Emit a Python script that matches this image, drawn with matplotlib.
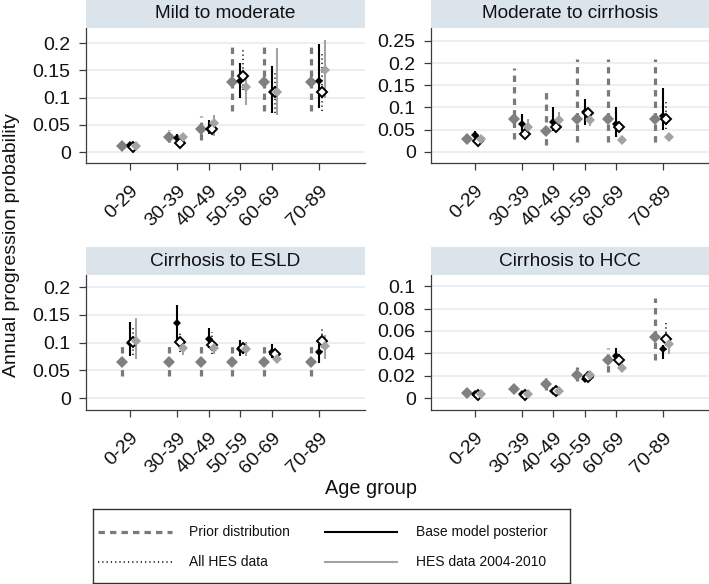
import matplotlib
matplotlib.use('Agg')
import matplotlib.pyplot as plt
from matplotlib.patches import Rectangle
from matplotlib.lines import Line2D

plt.rcParams['font.family'] = ['Liberation Sans', 'DejaVu Sans']

# ---------------- data ----------------
age_groups = ['0-29', '30-39', '40-49', '50-59', '60-69', '70-89']
age_mid = [20, 35, 45, 55, 65, 80]
panel_titles = ['Mild to moderate', 'Moderate to cirrhosis',
                'Cirrhosis to ESLD', 'Cirrhosis to HCC']
series_names = ['Prior distribution', 'Base model posterior',
                'All HES data', 'HES data 2004-2010']

# Mild to moderate
mm_prior    = [0.012, 0.028, 0.042, 0.129, 0.129, 0.129]
mm_prior_lo = [0.008, 0.019, 0.022, 0.076, 0.076, 0.076]
mm_prior_hi = [0.017, 0.040, 0.066, 0.193, 0.193, 0.193]
mm_base     = [0.013, 0.026, 0.042, 0.131, 0.110, 0.131]
mm_base_lo  = [0.009, 0.018, 0.033, 0.099, 0.072, 0.080]
mm_base_hi  = [0.017, 0.033, 0.058, 0.164, 0.158, 0.199]
mm_all      = [0.010, 0.017, 0.042, 0.139, 0.110, 0.110]
mm_all_lo   = [0.007, 0.013, 0.035, 0.114, 0.071, 0.076]
mm_all_hi   = [0.014, 0.022, 0.050, 0.190, 0.148, 0.182]
mm_h04      = [0.011, 0.027, 0.053, 0.119, 0.110, 0.151]
mm_h04_lo   = [0.007, 0.020, 0.030, 0.087, 0.068, 0.099]
mm_h04_hi   = [0.015, 0.035, 0.068, 0.145, 0.191, 0.206]

# Moderate to cirrhosis
mc_prior    = [0.028, 0.075, 0.048, 0.073, 0.073, 0.073]
mc_prior_lo = [0.022, 0.028, 0.016, 0.023, 0.023, 0.023]
mc_prior_hi = [0.040, 0.190, 0.137, 0.210, 0.210, 0.210]
mc_base     = [0.038, 0.063, 0.068, 0.090, 0.062, 0.081]
mc_base_lo  = [0.031, 0.046, 0.046, 0.061, 0.034, 0.049]
mc_base_hi  = [0.046, 0.085, 0.101, 0.120, 0.100, 0.145]
mc_all      = [0.025, 0.040, 0.057, 0.088, 0.055, 0.073]
mc_all_lo   = [0.021, 0.035, 0.050, 0.080, 0.050, 0.051]
mc_all_hi   = [0.030, 0.050, 0.065, 0.097, 0.060, 0.114]
mc_h04      = [0.030, 0.057, 0.072, 0.072, 0.026, 0.034]
mc_h04_lo   = [0.026, 0.042, 0.057, 0.058, 0.023, 0.031]
mc_h04_hi   = [0.034, 0.073, 0.090, 0.085, 0.029, 0.037]

# Cirrhosis to ESLD
ce_prior    = [0.065, 0.065, 0.065, 0.065, 0.065, 0.065]
ce_prior_lo = [0.040, 0.040, 0.040, 0.040, 0.040, 0.040]
ce_prior_hi = [0.094, 0.094, 0.094, 0.094, 0.094, 0.094]
ce_base     = [0.100, 0.135, 0.106, 0.088, 0.083, 0.083]
ce_base_lo  = [0.076, 0.105, 0.091, 0.076, 0.073, 0.064]
ce_base_hi  = [0.138, 0.168, 0.127, 0.105, 0.097, 0.098]
ce_all      = [0.101, 0.101, 0.095, 0.091, 0.080, 0.103]
ce_all_lo   = [0.077, 0.083, 0.080, 0.080, 0.070, 0.083]
ce_all_hi   = [0.131, 0.120, 0.120, 0.100, 0.090, 0.125]
ce_h04      = [0.103, 0.091, 0.090, 0.088, 0.070, 0.094]
ce_h04_lo   = [0.071, 0.078, 0.080, 0.075, 0.063, 0.071]
ce_h04_hi   = [0.144, 0.100, 0.100, 0.102, 0.078, 0.114]

# Cirrhosis to HCC
ch_prior    = [0.0045, 0.0080, 0.0125, 0.021, 0.034, 0.055]
ch_prior_lo = [0.0030, 0.0050, 0.0070, 0.015, 0.023, 0.034]
ch_prior_hi = [0.0060, 0.0110, 0.0180, 0.028, 0.045, 0.089]
ch_base     = [0.0035, 0.0035, 0.0065, 0.017, 0.038, 0.0435]
ch_base_lo  = [0.0020, 0.0020, 0.0045, 0.014, 0.033, 0.0345]
ch_base_hi  = [0.0050, 0.0050, 0.0085, 0.021, 0.045, 0.0470]
ch_all      = [0.0030, 0.0030, 0.0065, 0.019, 0.034, 0.053]
ch_all_lo   = [0.0020, 0.0020, 0.0050, 0.017, 0.030, 0.043]
ch_all_hi   = [0.0045, 0.0045, 0.0080, 0.023, 0.042, 0.067]
ch_h04      = [0.0040, 0.0035, 0.0065, 0.021, 0.027, 0.048]
ch_h04_lo   = [0.0030, 0.0025, 0.0050, 0.019, 0.025, 0.039]
ch_h04_hi   = [0.0050, 0.0045, 0.0080, 0.023, 0.029, 0.055]

mm_ticks = [0, 0.05, 0.1, 0.15, 0.2]
mc_ticks = [0, 0.05, 0.1, 0.15, 0.2, 0.25]
ce_ticks = [0, 0.05, 0.1, 0.15, 0.2]
ch_ticks = [0, 0.02, 0.04, 0.06, 0.08, 0.1]

# ---------------- style ----------------
W, H = 709, 584
fig = plt.figure(figsize=(W / 100, H / 100), dpi=100)

C_PRIOR = '#7a7a7a'
C_PRIOR_M = '#808080'
C_H04 = '#a3a3a3'
C_GRID = '#e5ebf1'
C_HEAD = '#dbe3eb'
C_SPINE = '#3c3c3c'
TICK_FS = 14

offsets = [-2.5, 0.0, 0.9, 1.8]
line_styles = [
    dict(color=C_PRIOR, lw=2.3, linestyle=(0, (2.0, 1.6))),
    dict(color='black', lw=1.5, linestyle='-'),
    dict(color='black', lw=1.1, linestyle=(0, (0.8, 2.0))),
    dict(color=C_H04, lw=1.5, linestyle='-'),
]
marker_styles = [
    dict(marker='D', ms=6.0, mfc=C_PRIOR_M, mec=C_PRIOR_M, mew=0),
    dict(marker='D', ms=3.8, mfc='black', mec='black', mew=0),
    dict(marker='D', ms=4.8, mfc='white', mec='black', mew=1.4),
    dict(marker='D', ms=4.6, mfc=C_H04, mec=C_H04, mew=0),
]

panels = [
    (panel_titles[0], [(mm_prior, mm_prior_lo, mm_prior_hi), (mm_base, mm_base_lo, mm_base_hi),
                       (mm_all, mm_all_lo, mm_all_hi), (mm_h04, mm_h04_lo, mm_h04_hi)],
     mm_ticks, (-0.020, 0.2275), (86, 365, 28, 163), (0, 28)),
    (panel_titles[1], [(mc_prior, mc_prior_lo, mc_prior_hi), (mc_base, mc_base_lo, mc_base_hi),
                       (mc_all, mc_all_lo, mc_all_hi), (mc_h04, mc_h04_lo, mc_h04_hi)],
     mc_ticks, (-0.025, 0.279), (431, 709, 28, 163), (0, 28)),
    (panel_titles[2], [(ce_prior, ce_prior_lo, ce_prior_hi), (ce_base, ce_base_lo, ce_base_hi),
                       (ce_all, ce_all_lo, ce_all_hi), (ce_h04, ce_h04_lo, ce_h04_hi)],
     ce_ticks, (-0.0216, 0.222), (86, 365, 275, 410), (247, 275)),
    (panel_titles[3], [(ch_prior, ch_prior_lo, ch_prior_hi), (ch_base, ch_base_lo, ch_base_hi),
                       (ch_all, ch_all_lo, ch_all_hi), (ch_h04, ch_h04_lo, ch_h04_hi)],
     ch_ticks, (-0.0107, 0.110), (431, 709, 275, 410), (247, 275)),
]

for title, series, yticks, ylim, (l, r, t, b), (ht, hb) in panels:
    ax = fig.add_axes([l / W, 1 - b / H, (r - l) / W, (b - t) / H])
    # header strip
    fig.add_artist(Rectangle((l / W, 1 - hb / H), (r - l) / W, (hb - ht) / H,
                             transform=fig.transFigure, facecolor=C_HEAD,
                             edgecolor='none'))
    fig.text((l + r) / 2 / W, 1 - (ht + hb) / 2 / H, title, ha='center',
             va='center', fontsize=13.7, color='#111111')

    for k, (est, lo, hi) in enumerate(series):
        xs = [p + offsets[k] for p in age_mid]
        ax.vlines(xs, lo, hi, zorder=2 + k * 0.1, **line_styles[k])
    for k, (est, lo, hi) in enumerate(series):
        xs = [p + offsets[k] for p in age_mid]
        ax.plot(xs, est, linestyle='none', zorder=4 + k * 0.1, **marker_styles[k])

    ax.set_xlim(6, 94.6)
    ax.set_ylim(*ylim)
    ax.set_xticks(age_mid)
    ax.set_xticklabels(age_groups, rotation=45, ha='right',
                       rotation_mode='anchor', fontsize=TICK_FS)
    ax.set_yticks(yticks)
    ax.set_yticklabels([f'{v:g}' for v in yticks], fontsize=TICK_FS)
    ax.yaxis.grid(True, color=C_GRID, lw=1.1)
    ax.set_axisbelow(True)
    for s in ['top', 'right']:
        ax.spines[s].set_visible(False)
    for s in ['left', 'bottom']:
        ax.spines[s].set_color(C_SPINE)
        ax.spines[s].set_linewidth(0.9)
    ax.tick_params(axis='both', direction='out', length=5, width=0.9,
                   color=C_SPINE, labelcolor='#111111')
    ax.tick_params(axis='x', pad=9)
    ax.tick_params(axis='y', pad=6)

fig.text(12 / W, 1 - 245 / H, 'Annual progression probability', rotation=90,
         ha='center', va='center', fontsize=14, color='#111111')
fig.text(371 / W, 1 - 488 / H, 'Age group', ha='center', va='center',
         fontsize=14.3, color='#111111')

# ---------------- legend ----------------
lax = fig.add_axes([93 / W, 1 - 583 / H, (570 - 93) / W, (583 - 509) / H])
lax.set_xlim(93, 570)
lax.set_ylim(583, 509)
lax.set_xticks([])
lax.set_yticks([])
for s in lax.spines.values():
    s.set_color('#333333')
    s.set_linewidth(1.0)
leg_rows = [532, 562, 532, 562]
leg_x0 = [98, 98, 325, 325]
leg_x1 = [172, 172, 397, 397]
leg_tx = [189, 189, 416, 416]
leg_order = [0, 2, 1, 3]
for i, k in enumerate(leg_order):
    lax.add_line(Line2D([leg_x0[i], leg_x1[i]], [leg_rows[i], leg_rows[i]],
                        **line_styles[k]))
    lax.text(leg_tx[i], leg_rows[i], series_names[k], ha='left', va='center',
             fontsize=10, color='#111111')

fig.savefig('out.png', dpi=100)
